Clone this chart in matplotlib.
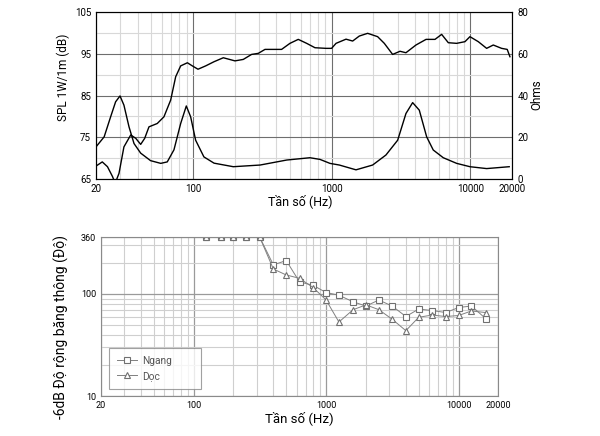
import matplotlib.pyplot as plt
import numpy as np
from matplotlib.ticker import FixedLocator, NullFormatter

plt.rcParams['font.family'] = ['Roboto', 'DejaVu Sans']

# ---- top chart: SPL (dB) and impedance (Ohms) ----
spl_f = [20, 22.2, 24.2, 26.3, 27.5, 29.3, 31.8, 35.6, 38.7, 42, 44.9, 48.2, 55.3,
         61.8, 69.1, 75.1, 81.6, 91.2, 99, 108.8, 123.6, 142, 165.6, 201, 230.8,
         265, 296, 331, 436, 501, 575, 661, 759, 912, 1000, 1077, 1271, 1419, 1585,
         1820, 2148, 2400, 2756, 3116, 3438, 4060, 4800, 5570, 6220, 6950, 7980,
         9160, 9950, 11430, 13130, 14660, 16830, 18480, 19330]
spl_db = [68.1, 69.1, 67.95, 65.6, 64.0, 66.35, 72.7, 75.55, 74.75, 73.3, 74.75, 77.5,
          78.3, 79.9, 83.9, 89.5, 92.1, 92.85, 92.1, 91.3, 92.1, 93.1, 94.05, 93.3,
          93.65, 94.85, 95.1, 96.05, 96.05, 97.5, 98.45, 97.5, 96.45, 96.3, 96.3,
          97.5, 98.5, 98.05, 99.25, 99.9, 99.1, 97.5, 94.85, 95.6, 95.25, 97.1,
          98.45, 98.45, 99.65, 97.65, 97.5, 97.9, 99.1, 97.9, 96.3, 97.1, 96.3,
          96.05, 94.3]

imp_f = [20, 22.9, 25.5, 27.7, 29.8, 31.8, 34.6, 37.6, 42, 49.5, 58.6, 65.3, 73,
         81.6, 89.6, 96.3, 104.6, 120, 142, 195.5, 305, 475, 698, 825, 973, 1138,
         1500, 1977, 2466, 2997, 3439, 3843, 4290, 4850, 5410, 6390, 7980, 9950,
         13130, 19100]
imp_ohm = [15.4, 20.2, 29.8, 37.0, 39.8, 35.4, 25.0, 17.0, 12.4, 8.8, 7.5, 8.2, 14.0,
           26.6, 35.0, 29.8, 18.6, 10.6, 7.6, 5.9, 6.7, 9.1, 10.2, 9.4, 7.5, 6.7,
           4.4, 6.7, 11.5, 18.6, 31.4, 36.6, 33.0, 20.2, 13.9, 10.2, 7.5, 5.9,
           5.0, 5.9]

# ---- bottom chart: -6dB beamwidth ----
bw_f = [125, 160, 200, 250, 315, 400, 500, 630, 800, 1000, 1250, 1600, 2000,
        2500, 3150, 4000, 5000, 6300, 8000, 10000, 12500, 16000]
ngang = [360, 360, 360, 360, 360, 192, 212, 131, 121, 103, 97, 83.5, 76, 87, 76,
         60, 71, 68.7, 65.6, 73.5, 76, 57.3]
doc = [360, 360, 360, 360, 360, 175, 153, 142, 115, 87, 53, 70, 78, 70, 56.5,
       43.6, 59, 62, 60, 61.4, 68, 65.6]

freq_ticks = [20, 100, 1000, 10000, 20000]
freq_labels = ['20', '100', '1000', '10000', '20000']
minors = [m * d for d in [10, 100, 1000, 10000] for m in range(2, 10) if 20 <= m * d <= 20000]

fig = plt.figure(figsize=(6, 4.36), dpi=100)

ax = fig.add_axes([0.16, 0.5894, 0.6933, 0.383])
ax.set_xscale('log')
ax.set_xlim(20, 20000)
ax.set_ylim(65, 105)
ax.plot(spl_f, spl_db, color='black', lw=1.0)
ax.set_yticks([65, 75, 85, 95, 105])
ax.yaxis.set_minor_locator(FixedLocator([70, 80, 90, 100]))
ax.set_xticks(freq_ticks)
ax.set_xticklabels(freq_labels)
ax.xaxis.set_minor_locator(FixedLocator(minors))
ax.xaxis.set_minor_formatter(NullFormatter())
ax.grid(True, which='major', color='#6e6e6e', lw=0.8)
ax.grid(True, which='minor', color='#d8d8d8', lw=0.8)
ax.tick_params(which='both', length=0, labelsize=7, pad=3.5)
ax.set_ylabel('SPL 1W/1m (dB)', fontsize=8.5, va='center')
ax.yaxis.set_label_coords(-0.079, 0.611)
ax.set_xlabel('Tần số (Hz)', fontsize=9, va='center')
ax.xaxis.set_label_coords(0.49, -0.132)
for s in ax.spines.values():
    s.set_color('#333333')

ax2 = ax.twinx()
ax2.set_ylim(0, 80)
ax2.plot(imp_f, imp_ohm, color='black', lw=1.0)
ax2.set_yticks([0, 20, 40, 60, 80])
ax2.tick_params(length=0, labelsize=7, pad=4)
ax2.set_ylabel('Ohms', fontsize=8.5, va='center')
ax2.yaxis.set_label_coords(1.06, 0.503)

# ---- bottom chart ----
bx = fig.add_axes([0.1683, 0.0917, 0.6625, 0.3647])
bx.set_xscale('log')
bx.set_yscale('log')
bx.set_xlim(20, 20000)
bx.set_ylim(10, 360)
bx.plot(bw_f, ngang, color='#808080', lw=0.7, marker='s', ms=4.5, mfc='white',
        mec='#707070', mew=0.8, label='Ngang')
bx.plot(bw_f, doc, color='#808080', lw=0.7, marker='^', ms=5, mfc='white',
        mec='#707070', mew=0.8, label='Dọc')
bx.set_xticks(freq_ticks)
bx.set_xticklabels(freq_labels)
bx.xaxis.set_minor_locator(FixedLocator(minors))
bx.xaxis.set_minor_formatter(NullFormatter())
bx.set_yticks([10, 100, 360])
bx.set_yticklabels(['10', '100', '360'])
bx.yaxis.set_minor_locator(FixedLocator([20, 30, 40, 50, 60, 70, 80, 90, 200, 300]))
bx.yaxis.set_minor_formatter(NullFormatter())
bx.grid(True, which='major', color='#9a9a9a', lw=0.9)
bx.grid(True, which='minor', color='#cfcfcf', lw=0.8)
bx.tick_params(which='both', length=0, labelsize=6.5, pad=3.5)
bx.set_xlabel('Tần số (Hz)', fontsize=9.5, va='center')
bx.xaxis.set_label_coords(0.5, -0.138)
bx.set_ylabel('-6dB Độ rộng băng thông (Độ)', fontsize=10, va='center')
bx.yaxis.set_label_coords(-0.099, 0.437)
for s in bx.spines.values():
    s.set_color('#8a8a8a')
leg = bx.legend(loc='lower left', bbox_to_anchor=(0.02, 0.044, 0.231, 0.25),
                mode='expand', borderaxespad=0, fontsize=7.3, frameon=True,
                fancybox=False, edgecolor='#8a8a8a', borderpad=0.8,
                labelspacing=0.5, handlelength=2.0, handletextpad=0.5)
leg.get_frame().set_linewidth(0.8)
for t in leg.get_texts():
    t.set_color('#555555')

fig.savefig('out.png', dpi=100)
